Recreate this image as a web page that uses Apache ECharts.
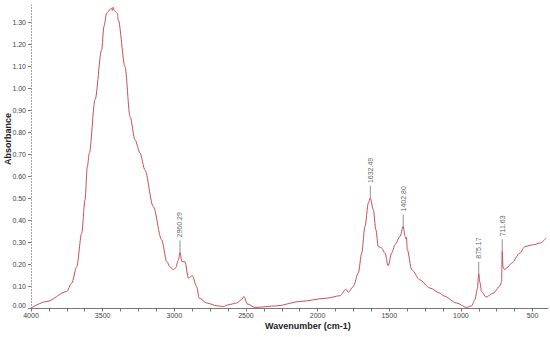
<!DOCTYPE html>
<html>
<head>
<meta charset="utf-8">
<script src="https://cdn.jsdelivr.net/npm/echarts@6/dist/echarts.min.js"></script>
<style>html,body{margin:0;padding:0;background:#fff}#c{width:550px;height:337px}</style>
</head>
<body>
<div id="c"></div>
<script>
// wavenumber (cm-1)
const wavenumbers = [4000,3890,3751,3716,3681,3646,3623,3607,3593,3553,3507,3491,3472,3448,3440,3432,3427,3420,3410,3398,3391,3344,3309,3274,3239,3205,3147,3088,3053,3030,3008,2990,2972,2960.29,2948,2925,2902,2874,2844,2826,2774,2700,2658,2623,2565,2530,2514,2491,2437,2285,2123,1937,1844,1802,1786,1751,1716,1692,1669,1646,1632.49,1611,1593,1577,1553,1530,1507,1483,1460,1425,1402.8,1390,1385,1380,1374,1343,1286,1216,1146,1123,1029,960,925,902,885,875.17,868,855,825,774,727,716,711.63,706,695,680,646,588,553,495,448,406];
// absorbance
const absorbance = [0.002,0.032,0.077,0.115,0.19,0.343,0.494,0.645,0.706,0.949,1.176,1.282,1.343,1.36,1.365,1.355,1.37,1.357,1.35,1.343,1.312,1.10,0.873,0.767,0.707,0.63,0.464,0.312,0.214,0.19,0.176,0.185,0.22,0.255,0.214,0.212,0.138,0.149,0.10,0.047,0.025,0.012,0.009,0.017,0.025,0.04,0.055,0.021,0.005,0.012,0.032,0.047,0.058,0.088,0.073,0.10,0.161,0.252,0.373,0.479,0.502,0.449,0.358,0.282,0.275,0.252,0.194,0.252,0.29,0.327,0.373,0.33,0.318,0.325,0.267,0.176,0.13,0.093,0.07,0.058,0.025,0.005,0.012,0.04,0.09,0.158,0.12,0.077,0.052,0.07,0.103,0.12,0.26,0.19,0.176,0.185,0.206,0.252,0.282,0.29,0.297,0.32];
// peak annotations
const peakWavenumbers = [2960.29,1632.49,1402.80,875.17,711.63];
const peakAbsorbance = [0.255,0.502,0.373,0.158,0.26];
const peakLabels = ['2960.29','1632.49','1402.80','875.17','711.63'];
// axis ticks
const xTickLabels = [4000,3500,3000,2500,2000,1500,1000,500];
const xMinorTicks = [];
for (let v = 4000; v >= 400; v -= 125) xMinorTicks.push(v);
const yTickLabels = [0,0.1,0.2,0.3,0.4,0.5,0.6,0.7,0.8,0.9,1.0,1.1,1.2,1.3];

const spectrum = wavenumbers.map((w,i)=>[w,absorbance[i]]);
const peaks = peakWavenumbers.map((w,i)=>({value:[w,peakAbsorbance[i]], name:peakLabels[i]}));

const chart = echarts.init(document.getElementById('c'), null, {renderer:'svg'});
const font = '"Liberation Sans", Arial, sans-serif';
chart.setOption({
  animation:false,
  backgroundColor:'#fff',
  grid:{left:31,right:2,top:5,bottom:28.5},
  xAxis:{
    type:'value', inverse:true, min:392, max:4000,
    axisLine:{lineStyle:{color:'#777',width:1}},
    axisTick:{customValues:xMinorTicks,length:3,lineStyle:{color:'#777'}},
    axisLabel:{customValues:xTickLabels,fontSize:7,color:'#444',fontFamily:font,margin:3,
      formatter:function(v){ return String(Math.round(v)); }},
    splitLine:{show:false}
  },
  yAxis:{
    type:'value', min:0, max:1.38,
    axisLine:{show:true,lineStyle:{color:'#999',width:1,type:[1,2]}},
    axisTick:{customValues:yTickLabels,length:3,lineStyle:{color:'#777'}},
    axisLabel:{customValues:yTickLabels,fontSize:7,color:'#444',fontFamily:font,margin:5,
      formatter:function(v){ return v===0 ? '{z|0.00}' : v.toFixed(2); },
      rich:{z:{fontSize:7,color:'#444',fontFamily:font,padding:[0,0,7,0]}}},
    splitLine:{show:false}
  },
  graphic:[
    {type:'text',left:3,top:113,rotation:Math.PI/2,style:{text:'Absorbance',font:'bold 9px '+font,fill:'#222'}},
    {type:'text',left:265,top:321.5,style:{text:'Wavenumber (cm-1)',font:'bold 9px '+font,fill:'#222'}}
  ],
  series:[
    {type:'line',data:spectrum,showSymbol:false,smooth:0.3,smoothMonotone:'x',
     lineStyle:{color:'#c4505a',width:1},itemStyle:{color:'#c4505a'},z:2},
    {type:'scatter',data:peaks,symbol:'rect',symbolSize:[0.8,12],symbolOffset:[0,-6],
     itemStyle:{color:'#555'},z:3,
     label:{show:true,formatter:'{b}',position:'top',rotate:90,align:'left',verticalAlign:'middle',
       distance:1,offset:[2,0],fontSize:7,color:'#333',fontFamily:font}}
  ]
});
</script>
</body>
</html>
